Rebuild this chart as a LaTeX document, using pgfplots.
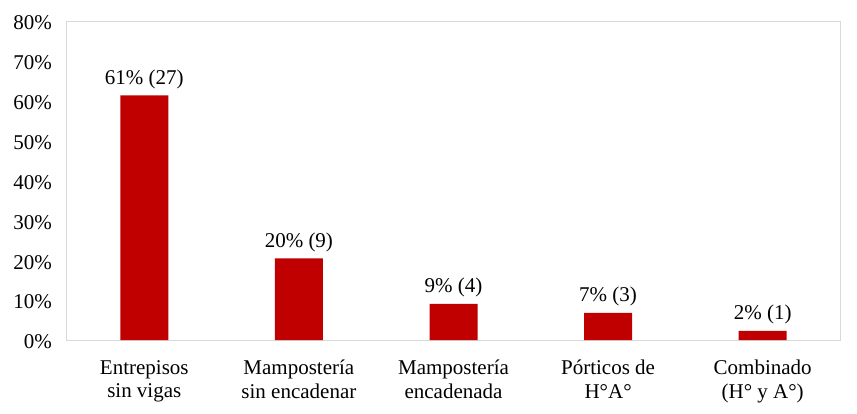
\documentclass[border=0pt]{standalone}
\usepackage{pgfplots}
\pgfplotsset{compat=1.18}
\usepackage{fontspec}
\setmainfont{Liberation Serif}
\definecolor{barred}{HTML}{C00000}
\definecolor{framegray}{HTML}{D9D9D9}
\begin{document}
\fontsize{21}{24}\selectfont
\begin{tikzpicture}
\begin{axis}[
  scale only axis,
  width=773pt, height=319pt,
  at={(0,0)}, anchor=south west,
  xmin=-0.5, xmax=4.5, ymin=0, ymax=80,
  axis line style={framegray, line width=1pt},
  major tick length=0pt,
  xtick={0,1,2,3,4},
  xticklabels={{Entrepisos\\sin vigas},{Mampostería\\sin encadenar},{Mampostería\\encadenada},{Pórticos de\\H°A°},{Combinado\\(H° y A°)}},
  xticklabel style={align=center, text=black, yshift=-13pt},
  ytick={0,10,20,30,40,50,60,70,80},
  yticklabels={0\%,10\%,20\%,30\%,40\%,50\%,60\%,70\%,80\%},
  yticklabel style={text=black, xshift=-8pt, yshift=-2pt},
  tick label style={font=\fontsize{21}{23.5}\selectfont},
  /pgf/number format/assume math mode=true,
  ybar, bar width=48pt,
  point meta=explicit symbolic,
  nodes near coords,
  nodes near coords style={font=\fontsize{21}{24}\selectfont, text=black, yshift=-0.5pt},
  clip=false,
]
\addplot[fill=barred, draw=none] coordinates {
  (0,61.36) [61\% (27)]
  (1,20.45) [20\% (9)]
  (2,9.09) [9\% (4)]
  (3,6.82) [7\% (3)]
  (4,2.27) [2\% (1)]
};
\end{axis}
\path (-67pt,-73pt) rectangle (790pt,340pt);
\end{tikzpicture}
\end{document}
